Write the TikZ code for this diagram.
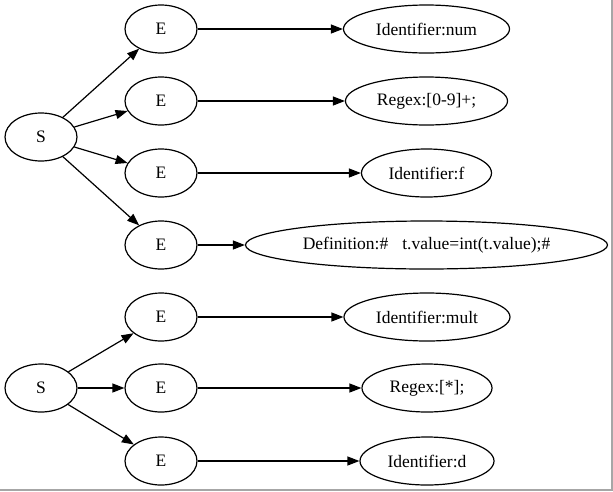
\documentclass[tikz,border=0pt]{standalone}
\usepackage{fontspec}
\setmainfont{Liberation Serif}
\usetikzlibrary{shapes.geometric,arrows.meta}
\begin{document}
\begin{tikzpicture}[x=1pt,y=-1pt,
  every node/.style={font=\fontsize{17.5}{20}\selectfont},
  nd/.style={ellipse,draw,line width=1.2pt,inner sep=0pt,minimum height=48pt},
  enode/.style={nd,minimum width=72pt},
  arr/.style={line width=1.2pt,-{Triangle[length=12pt,width=9pt]}}]
\useasboundingbox (0,0) rectangle (613,491);
\fill[white] (0,0) rectangle (613,491);
\draw[gray!70,line width=1.5pt] (0,490) -- (612,490) -- (612,0);
% top tree
\node[enode] (s1) at (41,137) {S};
\node[enode] (e1) at (161,29) {E};
\node[enode] (e2) at (161,101) {E};
\node[enode] (e3) at (161,173) {E};
\node[enode] (e4) at (161,245) {E};
\node[nd,minimum width=166pt] (r1) at (426.5,29) {Identifier:num};
\node[nd,minimum width=162pt] (r2) at (426.5,101) {Regex:[0-9]+;};
\node[nd,minimum width=130pt] (r3) at (426.5,173) {Identifier:f};
\node[nd,minimum width=362pt] (r4) at (426.5,245) {Definition:\#\hspace{14pt}t.value=int(t.value);\#};
\draw[arr] (s1) -- (e1);
\draw[arr] (s1) -- (e2);
\draw[arr] (s1) -- (e3);
\draw[arr] (s1) -- (e4);
\draw[arr] (e1) -- (r1);
\draw[arr] (e2) -- (r2);
\draw[arr] (e3) -- (r3);
\draw[arr] (e4) -- (r4);
% bottom tree
\node[enode] (s2) at (41,388) {S};
\node[enode] (e5) at (161,317) {E};
\node[enode] (e6) at (161,388) {E};
\node[enode] (e7) at (161,461) {E};
\node[nd,minimum width=166pt] (r5) at (427,317) {Identifier:mult};
\node[nd,minimum width=130pt] (r6) at (427,388) {Regex:[*];};
\node[nd,minimum width=134pt] (r7) at (427,461) {Identifier:d};
\draw[arr] (s2) -- (e5);
\draw[arr] (s2) -- (e6);
\draw[arr] (s2) -- (e7);
\draw[arr] (e5) -- (r5);
\draw[arr] (e6) -- (r6);
\draw[arr] (e7) -- (r7);
\end{tikzpicture}
\end{document}
